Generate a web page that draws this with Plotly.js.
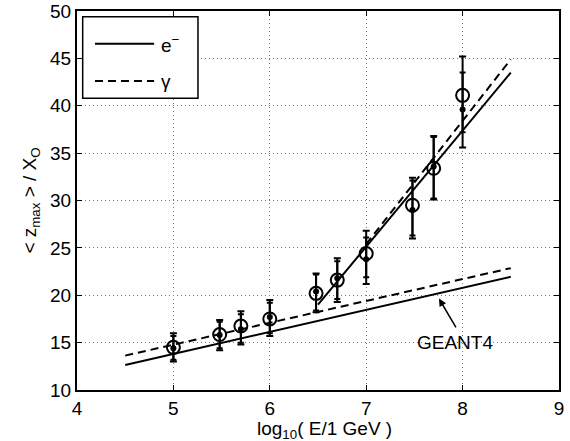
<!DOCTYPE html>
<html>
<head>
<meta charset="utf-8">
<script src="https://cdn.plot.ly/plotly-3.0.1.min.js"></script>
<style>
  html, body { margin: 0; padding: 0; background: #fff; }
  #chart { width: 570px; height: 441px; }
</style>
</head>
<body>
<div id="chart"></div>
<script>
// Energies, log10(E / 1 GeV)
const xPoints = [5, 5.48, 5.7, 6, 6.48, 6.7, 7, 7.48, 7.7, 8];

// Open circles with error bars
const yCircle  = [14.5, 15.85, 16.75, 17.5, 20.2, 21.6, 24.4, 29.5, 33.4, 41.1];
const circleHi = [16.0, 17.4, 18.3, 19.5, 22.3, 23.9, 26.8, 32.4, 36.8, 45.2];
const circleLo = [13.0, 14.2, 14.8, 15.7, 18.2, 19.3, 21.2, 26.0, 30.1, 35.6];

// Small filled dots with error bars
const yDot  = [14.4, 15.8, 16.4, 17.7, 20.4, 21.8, 23.8, 29.0, 33.6, 39.6];
const dotHi = [15.7, 17.2, 18.0, 19.2, 22.2, 23.6, 26.1, 32.1, 36.7, 43.5];
const dotLo = [13.2, 14.4, 15.0, 16.0, 18.4, 19.6, 21.9, 26.3, 30.2, 37.2];

// GEANT4 lines (low slope) and high-energy lines
const geantEx = [4.5, 8.5], geantEy = [12.64, 21.95];
const geantGx = [4.5, 8.5], geantGy = [13.63, 22.86];
const fitEx = [6.5, 8.5], fitEy = [19.0, 43.5];
const fitGx = [7.0, 8.5], fitGy = [25.4, 44.9];

// Axis ticks
const xTicks = [4, 5, 6, 7, 8, 9];
const yTicks = [10, 15, 20, 25, 30, 35, 40, 45, 50];

const up = (hi, y) => hi.map((h, i) => +(h - y[i]).toFixed(3));
const dn = (lo, y) => lo.map((l, i) => +(y[i] - l).toFixed(3));

const FONT = 'Liberation Sans, Arial, Helvetica, sans-serif';

const traces = [
  { x: geantEx, y: geantEy, mode: 'lines', line: { color: '#000', width: 2 }, showlegend: false, hoverinfo: 'skip' },
  { x: geantGx, y: geantGy, mode: 'lines', line: { color: '#000', width: 2, dash: '8px,5px' }, showlegend: false, hoverinfo: 'skip' },
  { x: fitEx, y: fitEy, mode: 'lines', line: { color: '#000', width: 2 }, showlegend: false, hoverinfo: 'skip' },
  { x: fitGx, y: fitGy, mode: 'lines', line: { color: '#000', width: 2, dash: '8px,5px' }, showlegend: false, hoverinfo: 'skip' },
  {
    x: xPoints, y: yDot, mode: 'markers', showlegend: false,
    marker: { symbol: 'circle', size: 6, color: '#000' },
    error_y: { type: 'data', symmetric: false, array: up(dotHi, yDot), arrayminus: dn(dotLo, yDot),
               color: '#000', thickness: 2, width: 3 }
  },
  {
    x: xPoints, y: yCircle, mode: 'markers', showlegend: false,
    marker: { symbol: 'circle-open', size: 13, color: '#000', line: { width: 2, color: '#000' } },
    error_y: { type: 'data', symmetric: false, array: up(circleHi, yCircle), arrayminus: dn(circleLo, yCircle),
               color: '#000', thickness: 2, width: 3.5 }
  }
];

const axisCommon = {
  showline: true, linecolor: '#000', linewidth: 2, mirror: 'ticks',
  ticks: 'inside', ticklen: 5, tickwidth: 1, tickcolor: '#000',
  showgrid: true, gridcolor: '#777', gridwidth: 1, griddash: '1px,3px',
  zeroline: false, tickfont: { family: FONT, size: 19, color: '#000' }
};

// legend in paper coordinates
const L = { x0: 0.0118, x1: 0.251, y0: 0.770, y1: 0.985, lx0: 0.0373, lx1: 0.16, yE: 0.9137, yG: 0.815 };

const layout = {
  width: 570, height: 441,
  margin: { l: 77, r: 11, t: 11, b: 51 },
  paper_bgcolor: '#fff', plot_bgcolor: '#fff',
  showlegend: false,
  font: { family: FONT, size: 19, color: '#000' },
  xaxis: Object.assign({}, axisCommon, {
    range: [4, 9], tickvals: xTicks, ticktext: xTicks.map(String)
  }),
  yaxis: Object.assign({}, axisCommon, {
    range: [10, 50], tickvals: yTicks, ticktext: yTicks.map(String),
    title: { text: '< z<sub>max</sub> > / X<sub>O</sub>', font: { family: FONT, size: 19 }, standoff: 8 }
  }),
  shapes: [
    { type: 'rect', xref: 'paper', yref: 'paper', x0: L.x0, x1: L.x1, y0: L.y0, y1: L.y1,
      line: { color: '#000', width: 1.5 }, fillcolor: '#fff' },
    { type: 'line', xref: 'paper', yref: 'paper', x0: L.lx0, x1: L.lx1, y0: L.yE, y1: L.yE,
      line: { color: '#000', width: 2 } },
    { type: 'line', xref: 'paper', yref: 'paper', x0: L.lx0, x1: L.lx1, y0: L.yG, y1: L.yG,
      line: { color: '#000', width: 2, dash: '8px,5px' } }
  ],
  annotations: [
    { xref: 'paper', yref: 'paper', x: 0.5127, y: -0.068, xanchor: 'center', yanchor: 'top',
      text: 'log<sub>10</sub>( E/1 GeV )', showarrow: false, font: { family: FONT, size: 19 } },
    { xref: 'paper', yref: 'paper', x: 0.17, y: L.yE, xanchor: 'left', yanchor: 'middle',
      text: 'e<sup>−</sup>', showarrow: false, font: { family: FONT, size: 19 } },
    { xref: 'paper', yref: 'paper', x: 0.17, y: L.yG, xanchor: 'left', yanchor: 'middle',
      text: 'γ', showarrow: false, font: { family: FONT, size: 19 } },
    { x: 7.92, y: 15.0, xref: 'x', yref: 'y', text: 'GEANT4', showarrow: false,
      font: { family: FONT, size: 19 } },
    { x: 7.755, y: 19.65, xref: 'x', yref: 'y', ax: 7.94, ay: 16.45, axref: 'x', ayref: 'y',
      text: '', showarrow: true, arrowhead: 2, arrowsize: 1, arrowwidth: 1.5, arrowcolor: '#000' }
  ]
};

Plotly.newPlot('chart', traces, layout, { displayModeBar: false, staticPlot: true });
</script>
</body>
</html>
